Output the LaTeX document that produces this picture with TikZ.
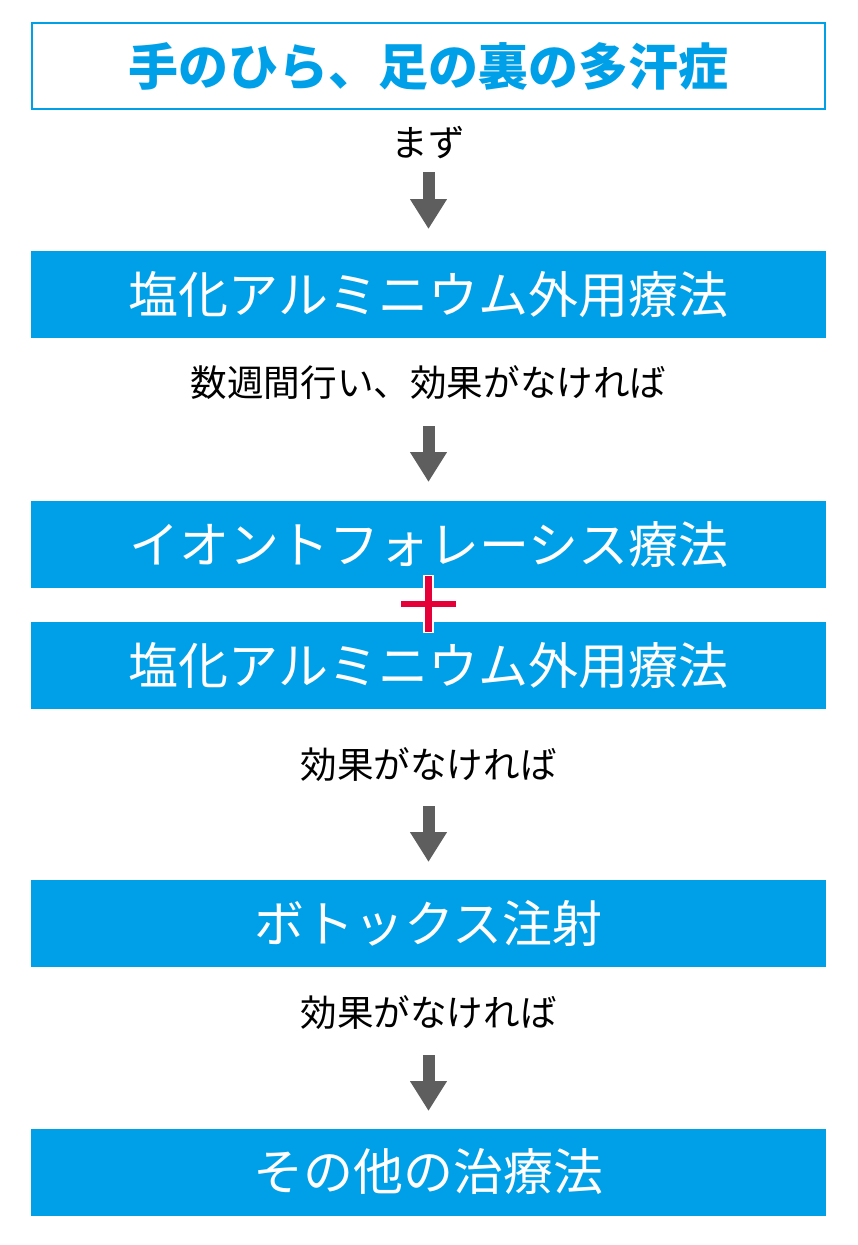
\documentclass[tikz,border=0pt]{standalone}
\usepackage{fontspec}
\setmainfont{Noto Sans CJK JP}
\usetikzlibrary{arrows.meta}
\definecolor{skyblue}{HTML}{00A0E9}
\definecolor{arrowgray}{HTML}{5E5E5E}
\definecolor{plusred}{HTML}{E5003A}
\tikzset{
  stepbox/.style={fill=skyblue, draw=none, minimum width=795pt, minimum height=87pt, inner sep=0pt, text=white, font=\fontsize{50pt}{56pt}\selectfont},
  titlebox/.style={fill=white, draw=skyblue, line width=2pt, minimum width=793pt, minimum height=86pt, inner sep=0pt, text=skyblue, font=\bfseries\fontsize{50pt}{56pt}\selectfont},
  steplabel/.style={inner sep=0pt, text=black, font=\fontsize{36.6pt}{40pt}\selectfont},
  bigarrow/.style={draw=arrowgray, line width=12pt, -{Triangle[width=35pt,length=30pt]}},
}
\begin{document}
\begin{tikzpicture}[x=1pt,y=-1pt]
\useasboundingbox (0,0) rectangle (857,1245);
\node[titlebox] (title) at (428.5,66) {手のひら、足の裏の多汗症};
\node[steplabel] (l1) at (428.5,143) {まず};
\coordinate (a1s) at (428.5,172);
\coordinate (a1e) at (428.5,229);
\draw[bigarrow] (a1s) -- (a1e);
\node[stepbox] (b1) at (428.5,294.5) {塩化アルミニウム外用療法};
\node[steplabel] (l2) at (428.5,383) {数週間行い、効果がなければ};
\coordinate (a2s) at (428.5,426);
\coordinate (a2e) at (428.5,482);
\draw[bigarrow] (a2s) -- (a2e);
\node[stepbox] (b2) at (428.5,544.5) {イオントフォレーシス療法};
\node[stepbox] (b3) at (428.5,665.5) {塩化アルミニウム外用療法};
\coordinate (plus) at (428.5,604);
\draw[white, line width=11pt] ([yshift=-29pt]plus) -- ([yshift=29pt]plus);
\draw[plusred, line width=7pt] ([yshift=-28pt]plus) -- ([yshift=28pt]plus);
\draw[plusred, line width=6pt] ([xshift=-27.5pt]plus) -- ([xshift=27.5pt]plus);
\node[steplabel] (l3) at (428.5,765) {効果がなければ};
\coordinate (a3s) at (428.5,806);
\coordinate (a3e) at (428.5,862);
\draw[bigarrow] (a3s) -- (a3e);
\node[stepbox] (b4) at (428.5,923.5) {ボトックス注射};
\node[steplabel] (l4) at (428.5,1013) {効果がなければ};
\coordinate (a4s) at (428.5,1055);
\coordinate (a4e) at (428.5,1111);
\draw[bigarrow] (a4s) -- (a4e);
\node[stepbox] (b5) at (428.5,1172) {その他の治療法};
\end{tikzpicture}
\end{document}
